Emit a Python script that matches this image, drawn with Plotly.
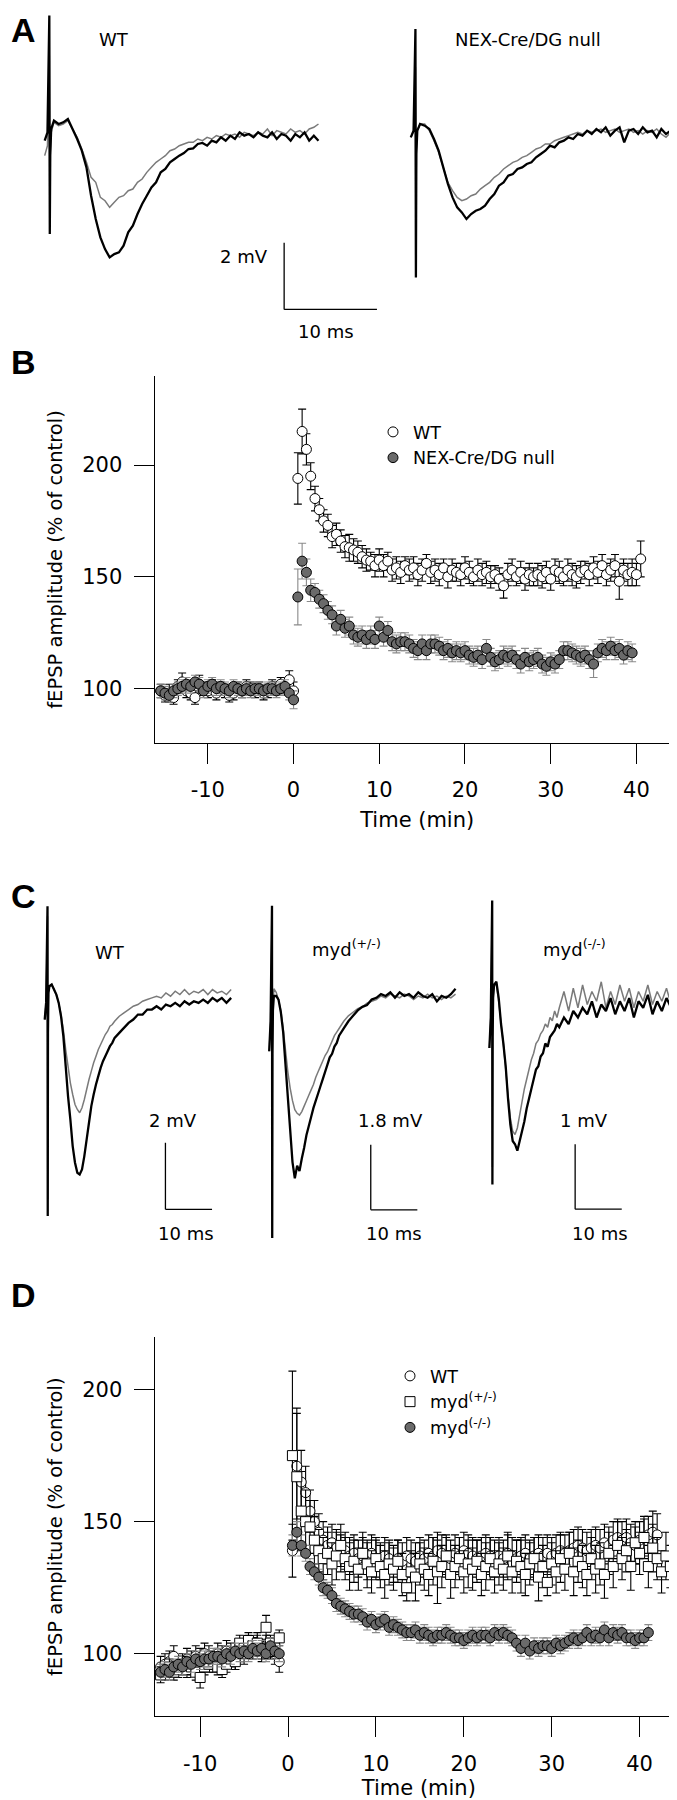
import plotly.graph_objects as go

W, H = 677, 1800

# ------------------------------------------------------------------
# Panel A : example fEPSP traces (time in ms, potential in mV)
# ------------------------------------------------------------------
A_T = [0.0, 0.3, 0.5, 0.55, 0.6, 0.7,
       1.0, 1.5, 2.0, 2.5, 3.0, 3.5, 4.0, 4.5, 5.0, 5.5,
       6.0, 6.5, 7.0, 7.5, 8.0, 8.5, 9.0, 9.5, 10.0, 10.5,
       11.0, 11.5, 12.0, 12.5, 13.0, 13.5, 14.0, 14.5, 15.0, 15.5,
       16.0, 16.5, 17.0, 17.5, 18.0, 18.5, 19.0, 19.5, 20.0, 20.5,
       21.0, 21.5, 22.0, 22.5, 23.0, 23.5, 24.0, 24.5, 25.0, 25.5,
       26.0, 26.5, 27.0, 27.5, 28.0, 28.5, 29.0, 29.5]
A_WT_AFTER = [-0.05, 0.2, 3.7, -2.85, -0.5, 0.3,
              0.55, 0.45, 0.5, 0.6, 0.3, 0.0, -0.35, -0.85, -1.7, -2.4,
              -2.95, -3.3, -3.55, -3.45, -3.4, -3.2, -2.8, -2.6, -2.25, -1.95,
              -1.7, -1.45, -1.3, -1.0, -0.9, -0.7, -0.6, -0.5, -0.42, -0.3,
              -0.28, -0.15, -0.12, -0.2, -0.05, -0.1, 0.05, -0.05, 0.1, 0.0,
              0.2, 0.1, 0.15, 0.05, 0.2, 0.1, 0.05, 0.2, 0.0, 0.15,
              0.1, -0.05, 0.15, 0.05, 0.2, -0.05, 0.1, -0.05]
A_WT_BEFORE = [-0.5, -0.2, 2.5, -2.5, -0.4, 0.2,
               0.5, 0.4, 0.45, 0.55, 0.3, 0.05, -0.3, -0.7, -1.15, -1.3,
               -1.75, -1.85, -2.05, -1.9, -1.75, -1.7, -1.55, -1.5, -1.3, -1.2,
               -1.0, -0.85, -0.7, -0.6, -0.5, -0.35, -0.3, -0.2, -0.15, -0.1,
               -0.1, 0.0, -0.05, 0.05, 0.0, 0.1, 0.05, 0.15, 0.1, 0.15,
               0.05, 0.2, 0.15, 0.1, 0.2, 0.15, 0.3, 0.1, 0.25, 0.2,
               0.15, 0.3, 0.2, 0.25, 0.15, 0.3, 0.35, 0.45]
A_NEX_AFTER = [-0.1, 0.1, 3.15, -4.3, -0.6, 0.1,
               0.3, 0.25, 0.15, -0.15, -0.5, -1.0, -1.5, -1.9, -2.2, -2.35,
               -2.55, -2.4, -2.3, -2.25, -2.15, -1.95, -1.8, -1.55, -1.45, -1.25,
               -1.2, -1.05, -1.0, -0.9, -0.85, -0.7, -0.6, -0.5, -0.35, -0.4,
               -0.25, -0.2, -0.1, -0.15, 0.0, -0.05, 0.1, 0.0, 0.15, 0.05,
               0.2, -0.05, 0.1, 0.2, -0.25, 0.1, 0.15, 0.0, 0.2, 0.05,
               0.1, -0.1, 0.15, 0.0, 0.1, 0.2, 0.05, 0.1]
A_NEX_BEFORE = [-0.1, 0.1, 2.0, -3.5, -0.5, 0.1,
                0.3, 0.3, 0.1, -0.2, -0.55, -1.0, -1.45, -1.7, -1.9, -2.0,
                -1.95, -1.85, -1.8, -1.65, -1.55, -1.45, -1.3, -1.2, -1.05, -0.95,
                -0.85, -0.8, -0.7, -0.65, -0.55, -0.45, -0.4, -0.3, -0.3, -0.2,
                -0.15, -0.1, -0.05, 0.0, 0.05, 0.0, 0.1, 0.05, 0.1, 0.15,
                0.05, 0.1, 0.15, 0.05, 0.1, 0.15, 0.05, 0.1, 0.0, 0.1,
                0.05, 0.15, 0.0, -0.1, 0.05, 0.1, -0.05, 0.0]

# ------------------------------------------------------------------
# Panel C : example traces (time in ms, potential in mV)
# ------------------------------------------------------------------
C_T = [0.0, 0.3, 0.6, 0.65, 0.7, 0.8,
       1.0, 1.5, 2.0, 2.5, 3.0, 3.5, 4.0, 4.5, 5.0, 5.5,
       6.0, 6.5, 7.0, 7.5, 8.0, 8.5, 9.0, 9.5, 10.0, 10.5,
       11.0, 11.5, 12.0, 12.5, 13.0, 13.5, 14.0, 14.5, 15.0,
       16, 17, 18, 19, 20, 21, 22, 23, 24, 25, 26, 27, 28, 29, 30,
       31, 32, 33, 34, 35, 36, 37, 38, 39, 40]
C_WT_AFTER = [-0.6, -0.1, 2.8, -6.5, -1.0, 0.2,
              0.4, 0.45, 0.3, 0.15, -0.1, -0.5, -1.1, -2.0, -2.9, -3.6,
              -4.4, -4.9, -5.2, -5.25, -5.1, -4.7, -4.2, -3.7, -3.2, -2.85,
              -2.55, -2.3, -2.05, -1.85, -1.7, -1.55, -1.4, -1.3, -1.15,
              -1.0, -0.85, -0.7, -0.6, -0.45, -0.45, -0.3, -0.3, -0.2, -0.3,
              -0.15, -0.2, -0.1, -0.2, -0.05, -0.15, -0.05, -0.1, 0.0, -0.1,
              0.05, -0.05, 0.05, -0.1, 0.05]
C_WT_BEFORE = [-0.6, -0.1, 2.5, -6.0, -1.0, 0.2,
               0.4, 0.45, 0.3, 0.15, -0.1, -0.45, -0.9, -1.5, -2.0, -2.5,
               -2.85, -3.15, -3.3, -3.4, -3.25, -3.0, -2.7, -2.4, -2.15, -1.9,
               -1.7, -1.5, -1.35, -1.2, -1.05, -0.95, -0.8, -0.75, -0.65,
               -0.5, -0.4, -0.3, -0.2, -0.15, -0.05, 0.0, 0.05, 0.1, 0.05,
               0.2, 0.1, 0.25, 0.15, 0.3, 0.15, 0.25, 0.2, 0.3, 0.15,
               0.3, 0.2, 0.25, 0.15, 0.3]
C_HET_AFTER = [-1.43, -0.6, 2.6, -6.6, -1.5, -0.3,
               0.1, 0.1, 0.0, -0.35, -0.9, -1.8, -2.7, -3.6, -4.5, -4.95,
               -4.6, -4.75, -4.4, -4.1, -3.75, -3.5, -3.25, -3.0, -2.8, -2.6,
               -2.4, -2.2, -2.0, -1.8, -1.6, -1.5, -1.3, -1.2, -1.0,
               -0.8, -0.6, -0.45, -0.3, -0.2, -0.15, 0.0, 0.05, 0.15, 0.1,
               0.2, 0.05, 0.2, 0.1, 0.15, 0.05, 0.2, 0.1, 0.05, 0.15,
               -0.05, 0.1, 0.05, 0.15, 0.3]
C_HET_BEFORE = [-1.43, -0.6, 2.3, -6.0, -1.5, -0.3,
                0.3, 0.2, 0.0, -0.3, -0.8, -1.4, -2.0, -2.45, -2.8, -3.05,
                -3.15, -3.2, -3.1, -2.95, -2.8, -2.65, -2.5, -2.35, -2.15, -2.0,
                -1.85, -1.7, -1.55, -1.45, -1.3, -1.15, -1.0, -0.9, -0.8,
                -0.6, -0.45, -0.35, -0.25, -0.2, -0.1, -0.05, 0.0, 0.1, 0.05,
                0.15, 0.1, 0.05, 0.15, 0.1, 0.0, 0.1, 0.05, 0.15, 0.05,
                0.1, 0.0, 0.1, 0.05, 0.15]
C_KO_AFTER = [-0.67, -0.2, 1.6, -2.77, -0.5, 0.1,
              0.3, 0.35, 0.1, -0.3, -0.6, -0.95, -1.45, -1.85, -2.1, -2.15,
              -2.25, -2.1, -1.95, -1.8, -1.6, -1.45, -1.3, -1.15, -1.0, -0.95,
              -0.8, -0.75, -0.6, -0.65, -0.5, -0.45, -0.4, -0.3, -0.35,
              -0.2, -0.3, -0.1, -0.2, -0.05, -0.15, 0.05, -0.2, 0.0, -0.1,
              0.1, -0.15, 0.05, -0.1, 0.1, -0.2, 0.05, -0.05, 0.15, -0.15,
              0.05, -0.1, 0.1, -0.05, 0.1]
C_KO_BEFORE = [-0.67, -0.2, 1.4, -2.5, -0.5, 0.1,
               0.3, 0.3, 0.05, -0.3, -0.6, -1.0, -1.4, -1.75, -1.95, -2.0,
               -1.9, -1.7, -1.5, -1.3, -1.15, -1.0, -0.85, -0.75, -0.6, -0.55,
               -0.45, -0.4, -0.3, -0.35, -0.2, -0.25, -0.1, -0.2, -0.05,
               0.2, -0.1, 0.25, -0.05, 0.3, 0.0, 0.2, 0.05, 0.35, -0.05,
               0.2, 0.0, 0.3, 0.05, 0.25, -0.05, 0.2, 0.05, 0.3, 0.0,
               0.2, 0.05, 0.25, 0.0, 0.15]

# ------------------------------------------------------------------
# Panel B : fEPSP amplitude (% of control) vs time (min)
# ------------------------------------------------------------------
B_T_PRE = [-15.5, -15.0, -14.5, -14.0, -13.5, -13.0, -12.5, -12.0, -11.5, -11.0,
           -10.5, -10.0, -9.5, -9.0, -8.5, -8.0, -7.5, -7.0, -6.5, -6.0,
           -5.5, -5.0, -4.5, -4.0, -3.5, -3.0, -2.5, -2.0, -1.5, -1.0,
           -0.5, 0.0]
B_T_POST = [0.5, 1.0, 1.5, 2.0, 2.5, 3.0, 3.5, 4.0, 4.5, 5.0,
            5.5, 6.0, 6.5, 7.0, 7.5, 8.0, 8.5, 9.0, 9.5, 10.0,
            10.5, 11.0, 11.5, 12.0, 12.5, 13.0, 13.5, 14.0, 14.5, 15.0,
            15.5, 16.0, 16.5, 17.0, 17.5, 18.0, 18.5, 19.0, 19.5, 20.0,
            20.5, 21.0, 21.5, 22.0, 22.5, 23.0, 23.5, 24.0, 24.5, 25.0,
            25.5, 26.0, 26.5, 27.0, 27.5, 28.0, 28.5, 29.0, 29.5, 30.0,
            30.5, 31.0, 31.5, 32.0, 32.5, 33.0, 33.5, 34.0, 34.5, 35.0,
            35.5, 36.0, 36.5, 37.0, 37.5, 38.0, 38.5, 39.0, 39.5, 40.0,
            40.5]
B_WT_PRE = [99, 97, 98, 96, 101, 103, 99, 98, 96, 102,
            100, 99, 101, 98, 100, 99, 97, 98, 100, 99,
            101, 100, 99, 100, 98, 99, 101, 100, 102, 100,
            104, 99]
B_WT_PRE_ERR = [3, 3, 4, 3, 3, 4, 3, 3, 3, 4,
                3, 3, 3, 3, 3, 3, 3, 3, 3, 3,
                3, 3, 3, 3, 3, 3, 3, 3, 3, 3,
                4, 4]
B_NEX_PRE = [99, 98, 97, 99, 100, 101, 102, 101, 103, 102,
             99, 101, 102, 100, 101, 100, 99, 101, 100, 99,
             100, 99, 100, 100, 99, 100, 100, 99, 100, 101,
             98, 95]
B_NEX_PRE_ERR = [3, 3, 3, 3, 3, 3, 3, 3, 3, 3,
                 3, 3, 3, 3, 3, 3, 3, 3, 3, 3,
                 3, 3, 3, 3, 3, 3, 3, 3, 3, 3,
                 3, 4]
B_WT_POST = [194, 215, 207, 195, 185, 180, 175, 173, 168, 169,
             166, 163.5, 163, 162, 161, 159, 157.5, 157, 155, 157.5,
             155, 157, 153, 154, 152, 155, 153, 154, 151, 153,
             156, 152, 153, 151, 154, 150, 153, 152, 151, 154,
             152, 150, 153, 151, 152, 150, 151, 149, 146, 151,
             153, 150, 152, 149, 151, 150, 151, 150, 152, 149,
             153, 152, 150, 153, 151, 150, 152, 153, 151, 154,
             152, 155, 151, 153, 155, 148, 153, 151, 152, 151,
             158]
B_WT_POST_ERR = [11.5, 10, 7, 6, 5.5, 5, 5, 5, 5, 5,
                 5, 5, 6, 5, 5, 5, 5, 4, 5, 5,
                 5, 4, 5, 5, 5, 4, 5, 5, 5, 5,
                 4, 5, 5, 5, 4, 5, 5, 4, 5, 5,
                 5, 4, 5, 5, 5, 5, 4, 5, 5.5, 5,
                 5, 4, 5, 5, 5, 4, 5, 5, 5, 5,
                 5, 5, 4, 5, 5, 5, 5, 4, 5, 5,
                 5, 5, 5, 5, 5, 8, 5, 5, 6, 5,
                 8]
B_NEX_POST = [141, 157, 152, 144, 143, 140, 138, 135, 133, 128,
              131, 127, 128, 124, 123, 124, 122, 124, 122, 128,
              123, 126, 121, 120, 121, 121, 120, 118, 117, 120,
              117, 120, 120, 119, 117, 118, 116, 117, 116, 117,
              115, 114, 115, 113, 118, 114, 112, 113, 115, 114,
              115, 113, 111, 114, 112, 113, 114, 111, 110, 112,
              111, 113, 117, 117, 116, 115, 114, 115, 113, 111,
              116, 118, 117, 119, 117, 118, 115, 117, 116]
B_NEX_POST_ERR = [12.5, 8, 6, 5, 4, 4, 4, 4, 4, 4,
                  4, 4, 4, 4, 4, 4, 4, 4, 4, 4,
                  4, 4, 4, 4, 4, 4, 4, 4, 4, 4,
                  4, 4, 4, 4, 4, 4, 4, 4, 4, 4,
                  4, 4, 4, 4, 4, 4, 4, 4, 4, 4,
                  4, 4, 4, 4, 4, 4, 4, 4, 4, 4,
                  4, 4, 4, 4, 4, 4, 4, 4, 4, 6,
                  4, 4, 4, 4, 4, 4, 4, 4, 4]

# ------------------------------------------------------------------
# Panel D : fEPSP amplitude (% of control) vs time (min)
# ------------------------------------------------------------------
D_T_PRE = [-14.5, -14.0, -13.5, -13.0, -12.5, -12.0, -11.5, -11.0, -10.5, -10.0,
           -9.5, -9.0, -8.5, -8.0, -7.5, -7.0, -6.5, -6.0, -5.5, -5.0,
           -4.5, -4.0, -3.5, -3.0, -2.5, -2.0, -1.5, -1.0]
D_T_POST = [0.5, 1.0, 1.5, 2.0, 2.5, 3.0, 3.5, 4.0, 4.5, 5.0,
            5.5, 6.0, 6.5, 7.0, 7.5, 8.0, 8.5, 9.0, 9.5, 10.0,
            10.5, 11.0, 11.5, 12.0, 12.5, 13.0, 13.5, 14.0, 14.5, 15.0,
            15.5, 16.0, 16.5, 17.0, 17.5, 18.0, 18.5, 19.0, 19.5, 20.0,
            20.5, 21.0, 21.5, 22.0, 22.5, 23.0, 23.5, 24.0, 24.5, 25.0,
            25.5, 26.0, 26.5, 27.0, 27.5, 28.0, 28.5, 29.0, 29.5, 30.0,
            30.5, 31.0, 31.5, 32.0, 32.5, 33.0, 33.5, 34.0, 34.5, 35.0,
            35.5, 36.0, 36.5, 37.0, 37.5, 38.0, 38.5, 39.0, 39.5, 40.0,
            40.5, 41.0, 41.5, 42.0, 42.5, 43.0, 43.5, 44.0]
D_WT_PRE = [95, 96, 97, 99, 95, 96, 98, 97, 99, 98,
            100, 99, 97, 100, 99, 101, 100, 98, 101, 100,
            103, 102, 104, 101, 103, 102, 100, 97]
D_WT_PRE_ERR = [4, 4, 4, 4, 4, 4, 4, 4, 4, 4,
                4, 4, 4, 4, 4, 4, 4, 4, 4, 4,
                4, 4, 4, 4, 4, 4, 4, 4]
D_HET_PRE = [92, 93, 95, 93, 94, 96, 94, 95, 93, 91,
             95, 96, 97, 95, 94, 96, 98, 97, 104, 102,
             105, 103, 104, 101, 110, 104, 102, 106]
D_HET_PRE_ERR = [3, 3, 3, 3, 3, 3, 3, 3, 3, 4,
                 3, 3, 3, 3, 3, 3, 3, 3, 3, 3,
                 3, 3, 3, 3, 4.5, 3, 3, 3]
D_KO_PRE = [93, 94, 93, 95, 96, 95, 97, 96, 98, 97,
            98, 98, 99, 99, 98, 100, 99, 101, 100, 101,
            100, 102, 101, 102, 100, 103, 101, 100]
D_KO_PRE_ERR = [3, 3, 3, 3, 3, 3, 3, 3, 3, 3,
                3, 3, 3, 3, 3, 3, 3, 3, 3, 3,
                3, 3, 3, 3, 3, 3, 3, 3]
D_WT_POST = [139, 171, 165, 161, 154, 150, 146, 143, 141, 142,
             140, 138, 139, 137, 138, 136, 137, 135, 138, 136,
             135, 137, 136, 134, 136, 135, 137, 136, 135, 137,
             136, 138, 137, 139, 138, 137, 136, 138, 137, 139,
             138, 137, 136, 137, 138, 137, 136, 137, 136, 138,
             137, 136, 137, 138, 136, 137, 138, 137, 138, 137,
             138, 139, 138, 139, 140, 141, 140, 139, 140, 141,
             140, 142, 141, 143, 144, 143, 144, 142, 141, 143,
             144, 145, 146, 145]
D_WT_POST_ERR = [10, 20, 12, 10, 8, 8, 7, 7, 7, 7,
                 7, 7, 7, 7, 7, 7, 7, 7, 7, 7,
                 7, 7, 7, 7, 7, 7, 7, 7, 7, 7,
                 7, 7, 7, 7, 7, 7, 7, 7, 7, 7,
                 7, 7, 7, 7, 7, 7, 7, 7, 7, 7,
                 7, 7, 7, 7, 7, 7, 7, 7, 7, 7,
                 7, 7, 7, 7, 7, 7, 7, 7, 7, 7,
                 7, 7, 7, 7, 7, 7, 7, 7, 7, 7,
                 7, 7, 8, 8]
D_HET_POST = [175, 167, 154, 150, 148, 143, 139, 136, 138, 134,
              137, 141, 136, 133, 135, 132, 138, 134, 131, 136,
              133, 130, 134, 132, 135, 130, 125, 131, 129, 134,
              132, 130, 135, 131, 133, 137, 130, 133, 136, 131,
              134, 132, 135, 130, 133, 136, 131, 134, 132, 137,
              131, 135, 133, 130, 134, 136, 129, 133, 127, 134,
              131, 136, 132, 138, 131, 135, 133, 130, 136, 132,
              134, 130, 138, 133, 141, 136, 139, 133, 142, 138,
              144, 133, 140, 136, 131, 137, 133, 141]
D_HET_POST_ERR = [32, 26, 15, 12, 10, 9, 8, 8, 8, 8,
                  9, 8, 8, 9, 8, 8, 8, 9, 8, 8,
                  8, 9, 8, 8, 8, 8, 5, 8, 9, 8,
                  8, 8, 9, 12, 8, 8, 9, 8, 8, 8,
                  9, 8, 8, 8, 9, 8, 8, 8, 8, 9,
                  8, 8, 10, 8, 8, 8, 9, 8, 5, 8,
                  8, 9, 8, 8, 9, 8, 8, 8, 8, 9,
                  8, 9, 8, 8, 9, 8, 8, 9, 8, 8,
                  8, 8, 9, 8, 8, 9, 8, 5]
D_KO_POST = [141, 146, 141, 138, 133, 131, 129, 125, 124, 122,
             119, 118, 117, 116, 115, 115, 114, 112, 113, 111,
             112, 113, 110, 111, 110, 109, 108, 108, 109, 107,
             108, 107, 106, 107, 107, 108, 107, 106, 106, 105,
             106, 107, 106, 107, 107, 106, 108, 107, 108, 107,
             106, 104, 102, 104, 101, 103, 102, 103, 103, 102,
             104, 103, 104, 105, 106, 105, 106, 108, 106, 107,
             106, 109, 106, 108, 107, 108, 106, 106, 105, 106,
             106, 108]
D_KO_POST_ERR = [4, 4, 4, 3, 3, 3, 3, 3, 3, 3,
                 3, 3, 3, 3, 3, 3, 3, 3, 3, 3,
                 3, 3, 3, 3, 3, 3, 3, 3, 3, 3,
                 3, 3, 3, 3, 3, 3, 3, 3, 3, 3,
                 3, 3, 3, 3, 3, 3, 3, 3, 3, 3,
                 3, 3, 3, 3, 3, 3, 3, 3, 3, 3,
                 3, 3, 3, 3, 3, 3, 3, 3, 3, 3,
                 3, 3, 3, 3, 3, 3, 3, 3, 3, 3,
                 3, 3]

TIME_TICKS = [-10, 0, 10, 20, 30, 40]
TIME_TICK_TEXT = ["-10", "0", "10", "20", "30", "40"]
AMP_TICKS = [100, 150, 200]
AMP_TICK_TEXT = ["100", "150", "200"]

# scale bars: (axis id, x0 [ms], y0 [mV], length ms, length mV)
SCALE_BARS = [("3", 25.8, -5.11, 10, 2.0),
              ("5", 25.9, -6.3, 10, 2.0),
              ("6", 21.8, -5.82, 10, 1.8),
              ("7", 18.4, -3.15, 10, 1.0)]

# ------------------------------------------------------------------
FONT = "DejaVu Sans"
BLACK = "#000000"
TRACE_GRAY = "#7a7a7a"
FILL_GRAY = "#6a6a6a"
BAR_GRAY = "#8a8a8a"


def px_x(p):
    return p / W


def px_y(p):
    return 1 - p / H


def dom_x(a, b):
    return [a / W, b / W]


def dom_y(top, bottom):
    return [1 - bottom / H, 1 - top / H]


fig = go.Figure()


def add_trace_pair(t, before, after, ax):
    n = min(len(t), len(before))
    fig.add_trace(go.Scatter(x=t[:n], y=before[:n], mode="lines",
                             line=dict(color=TRACE_GRAY, width=1.5, simplify=False),
                             xaxis="x" + ax, yaxis="y" + ax, showlegend=False,
                             hoverinfo="skip"))
    n = min(len(t), len(after))
    fig.add_trace(go.Scatter(x=t[:n], y=after[:n], mode="lines",
                             line=dict(color=BLACK, width=2.3, simplify=False),
                             xaxis="x" + ax, yaxis="y" + ax, showlegend=False,
                             hoverinfo="skip"))


add_trace_pair(A_T, A_WT_BEFORE, A_WT_AFTER, "3")
add_trace_pair(A_T, A_NEX_BEFORE, A_NEX_AFTER, "4")
add_trace_pair(C_T, C_WT_BEFORE, C_WT_AFTER, "5")
add_trace_pair(C_T, C_HET_BEFORE, C_HET_AFTER, "6")
add_trace_pair(C_T, C_KO_BEFORE, C_KO_AFTER, "7")


def add_points(t_pre, v_pre, e_pre, t_post, v_post, e_post, name, symbol,
               fill, barcolor, ax, legend):
    xs = list(t_pre[:len(v_pre)]) + list(t_post[:len(v_post)])
    ys = list(v_pre) + list(v_post)
    es = list(e_pre[:len(v_pre)]) + list(e_post[:len(v_post)])
    fig.add_trace(go.Scatter(
        x=xs, y=ys, mode="markers", name=name,
        marker=dict(symbol=symbol, size=10, color=fill,
                    line=dict(color=BLACK, width=1)),
        error_y=dict(type="data", array=es, visible=True, color=barcolor,
                     thickness=1.1, width=4),
        xaxis="x" + ax, yaxis="y" + ax, legend=legend))


add_points(B_T_PRE, B_WT_PRE, B_WT_PRE_ERR, B_T_POST, B_WT_POST, B_WT_POST_ERR,
           "WT", "circle", "#ffffff", BLACK, "", "legend")
add_points(B_T_PRE, B_NEX_PRE, B_NEX_PRE_ERR, B_T_POST, B_NEX_POST, B_NEX_POST_ERR,
           "NEX-Cre/DG null", "circle", FILL_GRAY, BAR_GRAY, "", "legend")
add_points(D_T_PRE, D_WT_PRE, D_WT_PRE_ERR, D_T_POST, D_WT_POST, D_WT_POST_ERR,
           "WT", "circle", "#ffffff", BLACK, "2", "legend2")
add_points(D_T_PRE, D_HET_PRE, D_HET_PRE_ERR, D_T_POST, D_HET_POST, D_HET_POST_ERR,
           "myd<sup>(+/-)</sup>", "square", "#ffffff", BLACK, "2", "legend2")
add_points(D_T_PRE, D_KO_PRE, D_KO_PRE_ERR, D_T_POST, D_KO_POST, D_KO_POST_ERR,
           "myd<sup>(-/-)</sup>", "circle", FILL_GRAY, BAR_GRAY, "2", "legend2")


def data_axes(domx, domy, xr, yr, title_standoff_x=10, title_standoff_y=14):
    xa = dict(domain=domx, range=xr, showline=True, linecolor=BLACK, linewidth=1.3,
              ticks="outside", ticklen=20, tickwidth=1.3, tickcolor=BLACK,
              tickmode="array", tickvals=TIME_TICKS, ticktext=TIME_TICK_TEXT,
              showgrid=False, zeroline=False,
              tickfont=dict(family=FONT, size=21, color=BLACK),
              ticklabelstandoff=8,
              title=dict(text="Time (min)", font=dict(family=FONT, size=21, color=BLACK),
                         standoff=title_standoff_x),
              fixedrange=True)
    ya = dict(domain=domy, range=yr, showline=True, linecolor=BLACK, linewidth=1.3,
              ticks="outside", ticklen=20, tickwidth=1.3, tickcolor=BLACK,
              tickmode="array", tickvals=AMP_TICKS, ticktext=AMP_TICK_TEXT,
              showgrid=False, zeroline=False,
              tickfont=dict(family=FONT, size=21, color=BLACK),
              ticklabelstandoff=7,
              title=dict(text="fEPSP amplitude (% of control)",
                         font=dict(family=FONT, size=19.5, color=BLACK),
                         standoff=title_standoff_y),
              fixedrange=True)
    return xa, ya


def hidden_axes(domx, domy, xr, yr):
    return (dict(domain=domx, range=xr, visible=False, fixedrange=True),
            dict(domain=domy, range=yr, visible=False, fixedrange=True))


xB, yB = data_axes(dom_x(146.7, 671.7), dom_y(368, 735), [-16.2, 45.05], [75.7, 239.8])
xB["anchor"] = "y"
yB["anchor"] = "x"
xD, yD = data_axes(dom_x(146.7, 675), dom_y(1329.3, 1708.3), [-15.17, 44.94], [76.3, 219.8],
                   title_standoff_x=4)
xD["anchor"] = "y2"
yD["anchor"] = "x2"

x3, y3 = hidden_axes(dom_x(30, 380), dom_y(0, 333), [-0.72, 36.99], [-6.057, 3.928])
x4, y4 = hidden_axes(dom_x(395, 677), dom_y(0, 333), [-0.84, 29.55], [-6.207, 3.778])
x5, y5 = hidden_axes(dom_x(30, 232), dom_y(880, 1235), [-1.44, 41.9], [-7.31, 3.35])
x6, y6 = hidden_axes(dom_x(255, 455), dom_y(880, 1235), [-1.33, 41.6], [-6.74, 3.09])
x7, y7 = hidden_axes(dom_x(475, 677), dom_y(875, 1235), [-1.37, 41.97], [-3.67, 1.87])
for i, (xa, ya) in zip("34567", [(x3, y3), (x4, y4), (x5, y5), (x6, y6), (x7, y7)]):
    xa["anchor"] = "y" + i
    ya["anchor"] = "x" + i

shapes = []
for ax, x0, y0, lx, ly in SCALE_BARS:
    shapes.append(dict(type="line", xref="x" + ax, yref="y" + ax, x0=x0, x1=x0,
                       y0=y0, y1=y0 + ly, line=dict(color=BLACK, width=1.3)))
    shapes.append(dict(type="line", xref="x" + ax, yref="y" + ax, x0=x0, x1=x0 + lx,
                       y0=y0, y1=y0, line=dict(color=BLACK, width=1.3)))


def label(text, x, y, size=18, xanchor="center", family=FONT):
    return dict(text=text, x=px_x(x), y=px_y(y), xref="paper", yref="paper",
                showarrow=False, xanchor=xanchor, yanchor="middle",
                font=dict(family=family, size=size, color=BLACK))


annotations = [
    label("<b>A</b>", 1, 22, size=34, xanchor="left", family="Liberation Sans"),
    label("<b>B</b>", 1, 354, size=34, xanchor="left", family="Liberation Sans"),
    label("<b>C</b>", 1, 888, size=34, xanchor="left", family="Liberation Sans"),
    label("<b>D</b>", 1, 1287, size=34, xanchor="left", family="Liberation Sans"),
    label("WT", 106, 31),
    label("NEX-Cre/DG null", 520, 31),
    label("2 mV", 262, 249, xanchor="right"),
    label("10 ms", 318, 324),
    label("WT", 102, 944),
    label("myd<sup>(+/-)</sup>", 302, 940, xanchor="left"),
    label("myd<sup>(-/-)</sup>", 533, 940, xanchor="left"),
    label("2 mV", 165, 1112),
    label("1.8 mV", 382, 1112),
    label("1 mV", 576, 1112),
    label("10 ms", 178, 1225),
    label("10 ms", 386, 1225),
    label("10 ms", 592, 1225),
]

legend_common = dict(xanchor="left", yanchor="top", bgcolor="rgba(0,0,0,0)",
                     borderwidth=0, font=dict(family=FONT, size=17.5, color=BLACK),
                     tracegroupgap=0)

fig.update_layout(
    width=W, height=H,
    margin=dict(l=0, r=0, t=0, b=0),
    paper_bgcolor="#ffffff", plot_bgcolor="#ffffff",
    showlegend=True,
    xaxis=xB, yaxis=yB, xaxis2=xD, yaxis2=yD,
    xaxis3=x3, yaxis3=y3, xaxis4=x4, yaxis4=y4,
    xaxis5=x5, yaxis5=y5, xaxis6=x6, yaxis6=y6, xaxis7=x7, yaxis7=y7,
    legend=dict(x=px_x(365), y=px_y(406), **legend_common),
    legend2=dict(x=px_x(382), y=px_y(1350), **legend_common),
    shapes=shapes,
    annotations=annotations,
    font=dict(family=FONT, color=BLACK),
)

fig.write_html("out.html")
